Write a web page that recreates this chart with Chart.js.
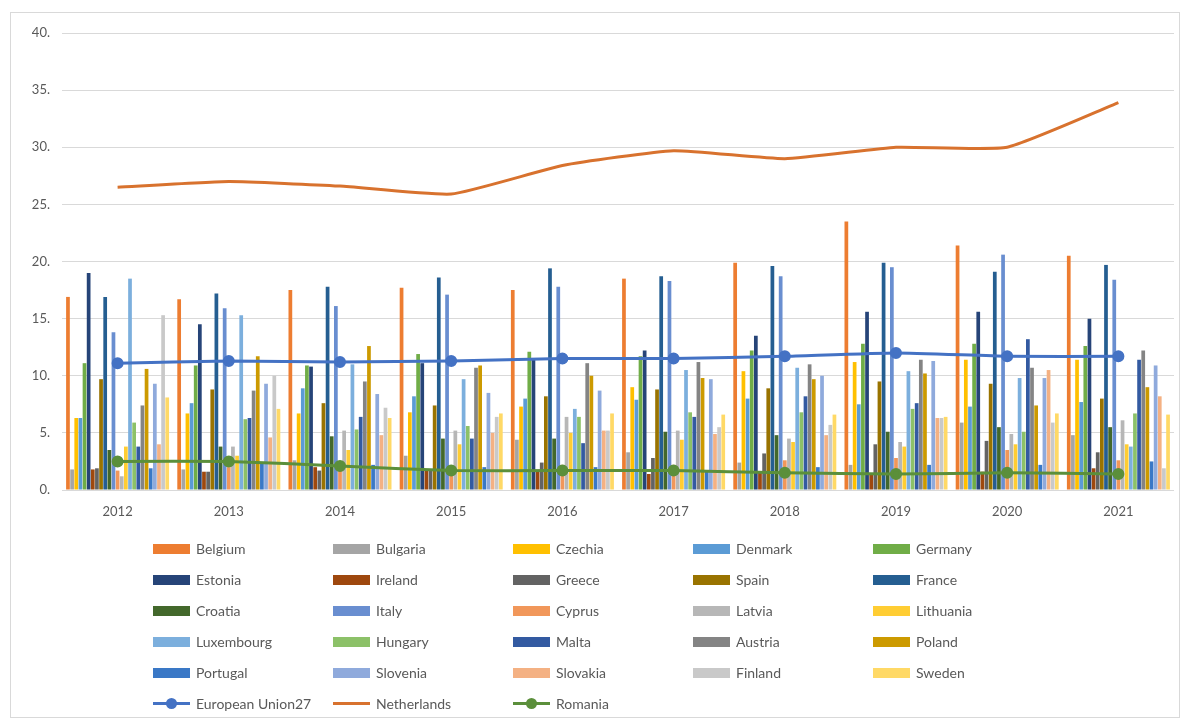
<!DOCTYPE html>
<html>
<head>
<meta charset="utf-8">
<script src="https://cdn.jsdelivr.net/npm/chart.js@4/dist/chart.umd.min.js"></script>
<style>
  html, body { margin: 0; padding: 0; background: #fff; }
  #wrap { position: relative; width: 1184px; height: 720px; overflow: hidden; }
  #frame { position: absolute; left: 10px; top: 12px; width: 1170px; height: 706px;
           border: 1px solid #d9d9d9; box-sizing: border-box; }
  #chart { position: absolute; left: 0; top: 0; }
  #legend { position: absolute; left: 153px; top: 533px; display: grid;
            grid-template-columns: repeat(5, 180px); grid-auto-rows: 31px;
            font-family: Lato, "Open Sans", sans-serif; font-size: 14px; color: #595959; }
  .item { display: flex; align-items: center; white-space: nowrap; }
  .sw { width: 37px; height: 10px; margin-right: 6px; flex: none; }
  .ln { position: relative; width: 37px; height: 3px; margin-right: 6px; flex: none; }
  .dot { position: absolute; left: 13px; top: -4px; width: 11px; height: 11px; border-radius: 50%; }
</style>
</head>
<body>
<div id="wrap">
  <div id="frame"></div>
  <canvas id="chart" width="1184" height="720"></canvas>
  <div id="legend"></div>
</div>
<script>
// Years on the category axis
const years = ['2012', '2013', '2014', '2015', '2016', '2017', '2018', '2019', '2020', '2021'];

// Country values per year (bars)
const belgium    = [16.9, 16.7, 17.5, 17.7, 17.5, 18.5, 19.9, 23.5, 21.4, 20.5];
const bulgaria   = [1.8, 1.8, 2.6, 3.0, 4.4, 3.3, 2.4, 2.2, 5.9, 4.8];
const czechia    = [6.3, 6.7, 6.7, 6.8, 7.3, 9.0, 10.4, 11.2, 11.4, 11.4];
const denmark    = [6.3, 7.6, 8.9, 8.2, 8.0, 7.9, 8.0, 7.5, 7.3, 7.7];
const germany    = [11.1, 10.9, 10.9, 11.9, 12.1, 11.7, 12.2, 12.8, 12.8, 12.6];
const estonia    = [19.0, 14.5, 10.8, 11.1, 11.4, 12.2, 13.5, 15.6, 15.6, 15.0];
const ireland    = [1.8, 1.6, 2.0, 1.7, 1.7, 1.4, 1.6, 1.4, 1.6, 1.9];
const greece     = [1.9, 1.6, 1.7, 1.7, 2.4, 2.8, 3.2, 4.0, 4.3, 3.3];
const spain      = [9.7, 8.8, 7.6, 7.4, 8.2, 8.8, 8.9, 9.5, 9.3, 8.0];
const france     = [16.9, 17.2, 17.8, 18.6, 19.4, 18.7, 19.6, 19.9, 19.1, 19.7];
const croatia    = [3.5, 3.8, 4.7, 4.5, 4.5, 5.1, 4.8, 5.1, 5.5, 5.5];
const italy      = [13.8, 15.9, 16.1, 17.1, 17.8, 18.3, 18.7, 19.5, 20.6, 18.4];
const cyprus     = [1.7, 2.0, 2.4, 2.0, 2.2, 2.2, 2.6, 2.8, 3.5, 2.6];
const latvia     = [1.2, 3.8, 5.2, 5.2, 6.4, 5.2, 4.5, 4.2, 4.9, 6.1];
const lithuania  = [3.8, 3.0, 3.5, 4.0, 5.0, 4.4, 4.2, 3.8, 4.0, 4.0];
const luxembourg = [18.5, 15.3, 11.0, 9.7, 7.1, 10.5, 10.7, 10.4, 9.8, 3.8];
const hungary    = [5.9, 6.2, 5.3, 5.6, 6.4, 6.8, 6.8, 7.1, 5.1, 6.7];
const malta      = [3.8, 6.3, 6.4, 4.5, 4.1, 6.4, 8.2, 7.6, 13.2, 11.4];
const austria    = [7.4, 8.7, 9.5, 10.7, 11.1, 11.2, 11.0, 11.4, 10.7, 12.2];
const poland     = [10.6, 11.7, 12.6, 10.9, 10.0, 9.8, 9.7, 10.2, 7.4, 9.0];
const portugal   = [1.9, 2.4, 2.2, 2.0, 2.0, 1.7, 2.0, 2.2, 2.2, 2.5];
const slovenia   = [9.3, 9.3, 8.4, 8.5, 8.7, 9.7, 10.0, 11.3, 9.8, 10.9];
const slovakia   = [4.0, 4.6, 4.8, 5.0, 5.2, 4.9, 4.8, 6.3, 10.5, 8.2];
const finland    = [15.3, 10.0, 7.2, 6.4, 5.2, 5.5, 5.7, 6.3, 5.9, 1.9];
const sweden     = [8.1, 7.1, 6.3, 6.7, 6.7, 6.6, 6.6, 6.4, 6.7, 6.6];

// Values drawn as lines
const europeanUnion27 = [11.1, 11.3, 11.2, 11.3, 11.5, 11.5, 11.7, 12.0, 11.7, 11.7];
const netherlands     = [26.5, 27.0, 26.6, 25.9, 28.4, 29.7, 29.0, 30.0, 30.0, 33.9];
const romania         = [2.5, 2.5, 2.1, 1.7, 1.7, 1.7, 1.5, 1.4, 1.5, 1.4];

// Bar series: name, values, colour
const barSeries = [
  ['Belgium', belgium, '#ED7D31'],
  ['Bulgaria', bulgaria, '#A5A5A5'],
  ['Czechia', czechia, '#FFC000'],
  ['Denmark', denmark, '#5B9BD5'],
  ['Germany', germany, '#70AD47'],
  ['Estonia', estonia, '#264478'],
  ['Ireland', ireland, '#9E480E'],
  ['Greece', greece, '#636363'],
  ['Spain', spain, '#997300'],
  ['France', france, '#255E91'],
  ['Croatia', croatia, '#43682B'],
  ['Italy', italy, '#698ED0'],
  ['Cyprus', cyprus, '#F1975A'],
  ['Latvia', latvia, '#B7B7B7'],
  ['Lithuania', lithuania, '#FFCD33'],
  ['Luxembourg', luxembourg, '#7CAFDD'],
  ['Hungary', hungary, '#8CC168'],
  ['Malta', malta, '#335AA1'],
  ['Austria', austria, '#848484'],
  ['Poland', poland, '#CC9A00'],
  ['Portugal', portugal, '#3A78C6'],
  ['Slovenia', slovenia, '#8FAADC'],
  ['Slovakia', slovakia, '#F4B183'],
  ['Finland', finland, '#C9C9C9'],
  ['Sweden', sweden, '#FFD966']
];

const lineSeries = [
  ['European Union27', europeanUnion27, '#4472C4', true],
  ['Netherlands', netherlands, '#D8722E', false],
  ['Romania', romania, '#5B8F3B', true]
];

const datasets = [];
barSeries.forEach(([name, values, color]) => {
  datasets.push({
    type: 'bar', label: name, data: values,
    backgroundColor: color, borderWidth: 0,
    categoryPercentage: 0.93, barPercentage: 0.9, order: 1
  });
});
lineSeries.forEach(([name, values, color, markers]) => {
  datasets.push({
    type: 'line', label: name, data: values,
    borderColor: color, backgroundColor: color, borderWidth: 3,
    pointRadius: markers ? 4.5 : 0, pointBackgroundColor: color,
    pointBorderColor: color, tension: 0.15, order: 0, fill: false
  });
});

const axisFont = { family: 'Lato, "Open Sans", sans-serif', size: 13 };

const chart = new Chart(document.getElementById('chart'), {
  data: { labels: years, datasets },
  options: {
    responsive: false,
    animation: false,
    layout: { padding: { top: 33, right: 10, bottom: 190, left: 0 } },
    plugins: { legend: { display: false }, tooltip: { enabled: false } },
    scales: {
      x: {
        grid: { display: false },
        border: { display: false },
        ticks: { color: '#595959', font: axisFont, padding: 6 },
        afterFit(s) { s.height = 40; }
      },
      y: {
        min: 0, max: 40,
        ticks: { stepSize: 5, color: '#595959', font: axisFont, padding: 12,
                 callback: v => v + '.' },
        grid: { color: '#d9d9d9', drawTicks: false },
        border: { display: false },
        afterFit(s) { s.width = 62; }
      }
    }
  }
});

// Legend built from the chart's datasets, laid out on a five-column grid
const legend = document.getElementById('legend');
chart.data.datasets.forEach(ds => {
  const item = document.createElement('div');
  item.className = 'item';
  if (ds.type === 'bar') {
    const sw = document.createElement('span');
    sw.className = 'sw';
    sw.style.background = ds.backgroundColor;
    item.appendChild(sw);
  } else {
    const ln = document.createElement('span');
    ln.className = 'ln';
    ln.style.background = ds.borderColor;
    if (ds.pointRadius > 0) {
      const dot = document.createElement('span');
      dot.className = 'dot';
      dot.style.background = ds.borderColor;
      ln.appendChild(dot);
    }
    item.appendChild(ln);
  }
  const txt = document.createElement('span');
  txt.textContent = ds.label;
  item.appendChild(txt);
  legend.appendChild(item);
});
</script>
</body>
</html>
